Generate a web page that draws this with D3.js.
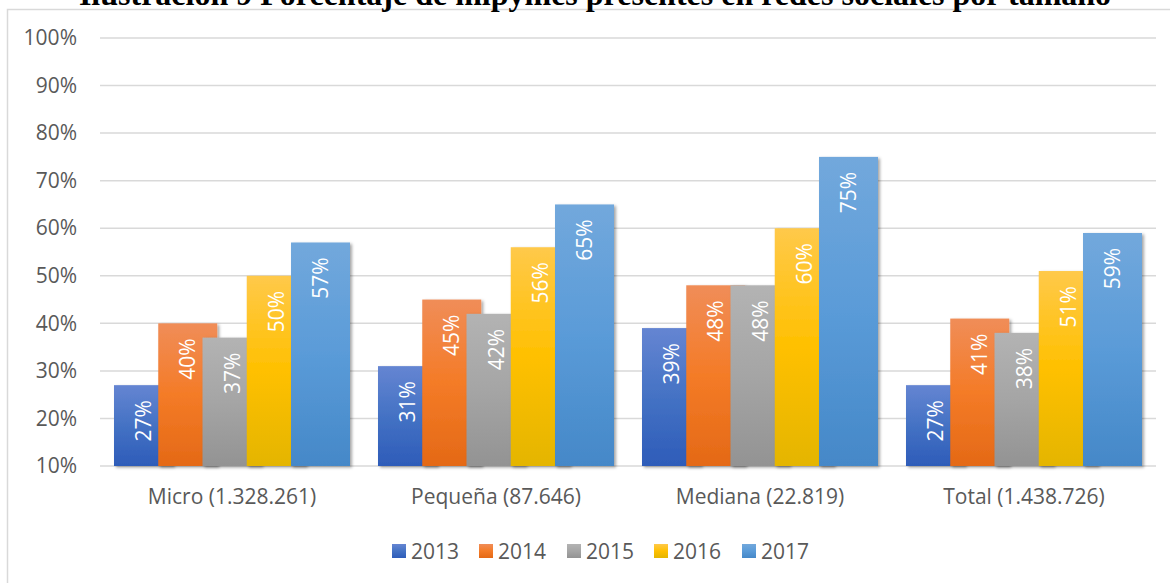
<!DOCTYPE html>
<html>
<head>
<meta charset="utf-8">
<script src="https://cdn.jsdelivr.net/npm/d3@7"></script>
<style>
  body { margin: 0; background: #fff; }
  svg { display: block; }
</style>
</head>
<body>
<div id="chart"></div>
<script>
var categories = ["Micro (1.328.261)", "Pequeña (87.646)", "Mediana (22.819)", "Total (1.438.726)"];
var years = ["2013", "2014", "2015", "2016", "2017"];
var v2013 = [27, 31, 39, 27];
var v2014 = [40, 45, 48, 41];
var v2015 = [37, 42, 48, 38];
var v2016 = [50, 56, 60, 51];
var v2017 = [57, 65, 75, 59];
var series = [v2013, v2014, v2015, v2016, v2017];
var yTicks = [10, 20, 30, 40, 50, 60, 70, 80, 90, 100];
var title = "Ilustración 9 Porcentaje de mipymes presentes en redes sociales por tamaño";

// top, mid, bottom of each gradient
var grads = [
  ["#6585d2", "#4472c4", "#2e5cb9"],
  ["#f08d58", "#f47b27", "#e46916"],
  ["#b3b3b3", "#a5a5a5", "#939393"],
  ["#ffc94a", "#ffc000", "#e4b500"],
  ["#72a8dc", "#5a9bd8", "#4588c8"]
];

var font = "'Open Sans', sans-serif";
var W = 1170, H = 583;
var margin = {top: 38, right: 14, bottom: 117, left: 100};
var width = W - margin.left - margin.right;
var height = H - margin.top - margin.bottom;

var svg = d3.select("#chart").append("svg")
    .attr("width", W)
    .attr("height", H);

var defs = svg.append("defs");
grads.forEach(function(g, i) {
  var lg = defs.append("linearGradient")
      .attr("id", "g" + i)
      .attr("x1", 0).attr("y1", 0).attr("x2", 0).attr("y2", 1);
  lg.append("stop").attr("offset", "0%").attr("stop-color", g[0]);
  lg.append("stop").attr("offset", "50%").attr("stop-color", g[1]);
  lg.append("stop").attr("offset", "100%").attr("stop-color", g[2]);
});
var f = defs.append("filter").attr("id", "shadow")
    .attr("x", "-20%").attr("y", "-10%").attr("width", "150%").attr("height", "130%");
f.append("feDropShadow").attr("dx", 2).attr("dy", 1.5).attr("stdDeviation", 1.5)
    .attr("flood-color", "#000").attr("flood-opacity", 0.35);

// outer frame
svg.append("rect")
    .attr("x", 7.5).attr("y", 9.5)
    .attr("width", W + 10).attr("height", H + 10)
    .attr("fill", "none").attr("stroke", "#d9d9d9").attr("stroke-width", 1.5);

// title, cut at the top edge as in the source
svg.append("text")
    .attr("x", 595).attr("y", 5)
    .attr("text-anchor", "middle")
    .style("font-family", "'Liberation Serif', 'Times New Roman', serif")
    .style("font-weight", "bold")
    .style("font-size", "32px")
    .attr("fill", "#000")
    .text(title);

var g = svg.append("g")
    .attr("transform", "translate(" + margin.left + "," + margin.top + ")");

var x = d3.scaleBand()
    .domain(categories)
    .range([0, width]);
var y = d3.scaleLinear()
    .domain([10, 100])
    .range([height, 0]);

// gridlines
g.selectAll(".grid")
    .data(yTicks)
    .enter()
    .append("line")
    .attr("x1", 0).attr("x2", width)
    .attr("y1", function(d) { return y(d); })
    .attr("y2", function(d) { return y(d); })
    .attr("stroke", "#d9d9d9")
    .attr("stroke-width", 1.5);

// y tick labels
g.append("g")
    .call(d3.axisLeft(y).tickValues(yTicks).tickSize(0).tickPadding(23).tickFormat(function(d) { return d + "%"; }))
    .call(function(a) { a.select(".domain").remove(); })
    .selectAll("text")
    .style("font-family", font)
    .style("font-size", "21px")
    .attr("fill", "#595959");

// bars
var gap = 14;
var stride = (x.bandwidth() - 2 * gap) / (years.length - 1 + 1.333);
var barW = stride * 1.333;

var cats = g.selectAll(".cat")
    .data(categories)
    .enter()
    .append("g")
    .attr("transform", function(d) { return "translate(" + (x(d) + gap) + ",0)"; });

years.forEach(function(yr, si) {
  cats.append("rect")
      .attr("x", si * stride)
      .attr("width", barW)
      .attr("y", function(d, ci) { return y(series[si][ci]); })
      .attr("height", function(d, ci) { return y(10) - y(series[si][ci]); })
      .attr("fill", "url(#g" + si + ")")
      .attr("filter", "url(#shadow)");
});

years.forEach(function(yr, si) {
  cats.append("text")
      .attr("transform", function(d, ci) {
        return "translate(" + (si * stride + barW / 2 + 7.5) + "," + (y(series[si][ci]) + 15) + ")rotate(-90)";
      })
      .attr("text-anchor", "end")
      .style("font-family", font)
      .style("font-size", "21px")
      .attr("fill", "#fff")
      .text(function(d, ci) { return series[si][ci] + "%"; });
});

// category labels
g.append("g")
    .attr("transform", "translate(0," + height + ")")
    .call(d3.axisBottom(x).tickSize(0).tickPadding(23))
    .call(function(a) { a.select(".domain").remove(); })
    .selectAll("text")
    .style("font-family", font)
    .style("font-size", "21px")
    .attr("fill", "#595959");

// legend
var legX = [392, 479, 567, 654, 742];
var leg = svg.append("g").attr("transform", "translate(0,551)");
years.forEach(function(yr, i) {
  leg.append("rect")
      .attr("x", legX[i]).attr("y", -7)
      .attr("width", 14).attr("height", 14)
      .attr("fill", "url(#g" + i + ")");
  leg.append("text")
      .attr("x", legX[i] + 19).attr("y", 8)
      .style("font-family", font)
      .style("font-size", "21px")
      .attr("fill", "#595959")
      .text(yr);
});
</script>
</body>
</html>
